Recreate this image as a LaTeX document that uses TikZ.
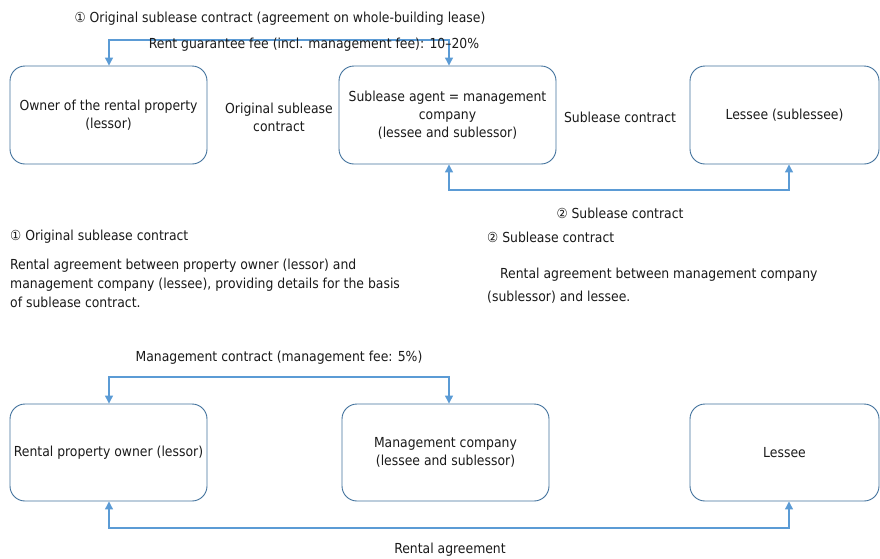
\documentclass[tikz,border=0pt]{standalone}
\usepackage{fontspec}
\setmainfont{DejaVu Sans Condensed}
\usetikzlibrary{arrows.meta}
\definecolor{boxblue}{HTML}{41719C}
\definecolor{arrblue}{HTML}{5B9BD5}
\definecolor{txt}{HTML}{1A1A1A}
\tikzset{
  box/.style={draw=boxblue, line width=0.9pt, rounded corners=15pt, align=center,
    text=txt, font=\fontsize{13.8}{18}\selectfont, inner sep=0pt},
  lbl/.style={text=txt, font=\fontsize{13.8}{18}\selectfont, inner sep=0pt, align=center},
  conn/.style={draw=arrblue, line width=1.2pt, {Triangle[length=8pt,width=8pt]}-{Triangle[length=8pt,width=8pt]}}
}
\begin{document}
\begin{tikzpicture}[x=1pt,y=-1pt]
\useasboundingbox (0,0) rectangle (880,558);
% row 1 boxes
\node[box, minimum width=197pt, minimum height=98pt] (owner) at (108.5,115) {Owner of the rental property\\(lessor)};
\node[box, minimum width=217pt, minimum height=98pt] (agent) at (447.5,115) {Sublease agent = management\\company\\(lessee and sublessor)};
\node[box, minimum width=189pt, minimum height=98pt] (lessee) at (784.5,115) {Lessee (sublessee)};
% labels row 1
\node[lbl] (t1) at (280,19) {① Original sublease contract (agreement on whole-building lease)};
\coordinate (tl) at (109,40);
\coordinate (tr) at (449,40);
\draw[conn] (tl |- owner.north) -- (tl) -- (tr) -- (tr |- agent.north);
\node[lbl] (t2) at (314,45) {Rent guarantee fee (incl. management fee): 10–20\%};
\node[lbl] (t3) at (279,117) {Original sublease\\contract};
\node[lbl] (t4) at (620,117) {Sublease contract};
\coordinate (bl) at (449,190);
\coordinate (br) at (789,190);
\draw[conn] (bl |- agent.south) -- (bl) -- (br) -- (br |- lessee.south);
\node[lbl] (t5) at (620,213) {② Sublease contract};
% descriptions
\node[lbl, anchor=west] (d1) at (10,237) {① Original sublease contract};
\node[lbl, anchor=west] (d2) at (487,237) {② Sublease contract};
\node[lbl, anchor=north west, align=left, font=\fontsize{13.8}{19}\selectfont] (d3) at (10,259) {Rental agreement between property owner (lessor) and\\management company (lessee), providing details for the basis\\of sublease contract.};
\node[lbl, anchor=west] (d4) at (500,275) {Rental agreement between management company};
\node[lbl, anchor=west] (d5) at (487,297) {(sublessor) and lessee.};
% row 2
\node[box, minimum width=197pt, minimum height=97pt] (owner2) at (108.5,452.5) {Rental property owner (lessor)};
\node[box, minimum width=207pt, minimum height=97pt] (mgmt) at (445.5,452.5) {Management company\\(lessee and sublessor)};
\node[box, minimum width=189pt, minimum height=97pt] (lessee2) at (784.5,452.5) {Lessee};
\node[lbl] (t6) at (279,358) {Management contract (management fee: 5\%)};
\coordinate (ml) at (109,377);
\coordinate (mr) at (449,377);
\draw[conn] (ml |- owner2.north) -- (ml) -- (mr) -- (mr |- mgmt.north);
\coordinate (rl) at (109,528);
\coordinate (rr) at (789,528);
\draw[conn] (rl |- owner2.south) -- (rl) -- (rr) -- (rr |- lessee2.south);
\node[lbl] (t7) at (450,550) {Rental agreement};
\end{tikzpicture}
\end{document}
